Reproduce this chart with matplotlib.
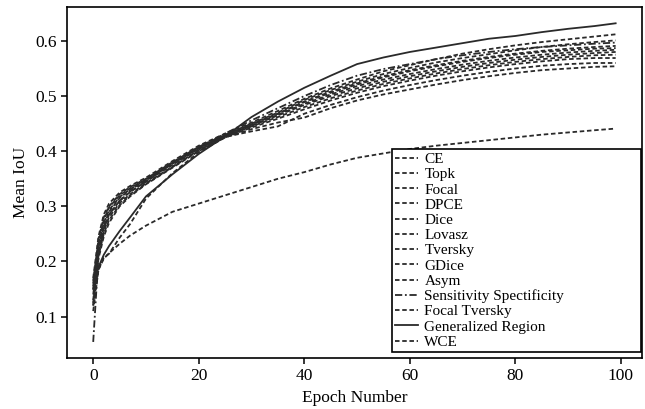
import matplotlib
matplotlib.use('Agg')
import matplotlib.pyplot as plt

plt.rcParams['font.family'] = ['Liberation Serif', 'DejaVu Serif']

epochs = [0, 1, 2, 3, 5, 7, 10, 15, 20, 25, 30, 35, 40, 45, 50, 55, 60, 65, 70, 75, 80, 85, 90, 95, 99]

ce = [.13, .215, .255, .28, .306, .322, .342, .372, .402, .426, .445, .462, .480, .496, .510, .522, .532, .541, .549, .556, .562, .567, .571, .574, .575]
topk = [.17, .245, .285, .305, .325, .337, .352, .382, .41, .432, .452, .473, .495, .514, .530, .545, .556, .567, .577, .585, .592, .598, .603, .608, .612]
focal = [.125, .21, .25, .275, .302, .32, .341, .371, .401, .426, .436, .445, .468, .484, .498, .510, .520, .529, .537, .544, .550, .555, .558, .560, .560]
dpce = [.12, .205, .245, .27, .30, .318, .34, .37, .40, .425, .443, .459, .476, .492, .506, .518, .528, .537, .545, .552, .558, .563, .567, .569, .569]
dice = [.155, .23, .27, .293, .317, .331, .348, .378, .406, .428, .447, .466, .486, .503, .518, .530, .540, .549, .557, .564, .570, .575, .579, .582, .584]
lovasz = [.11, .185, .207, .214, .243, .268, .314, .36, .398, .425, .44, .452, .461, .478, .492, .503, .512, .521, .529, .536, .542, .547, .550, .553, .554]
tversky = [.14, .22, .26, .285, .31, .326, .345, .375, .404, .427, .446, .465, .484, .500, .514, .526, .536, .545, .553, .560, .566, .571, .575, .578, .580]
gdice = [.16, .24, .28, .30, .322, .335, .35, .38, .408, .43, .45, .47, .493, .511, .526, .540, .551, .561, .569, .576, .583, .589, .594, .598, .601]
asym = [.165, .235, .275, .298, .32, .333, .349, .379, .407, .429, .449, .468, .490, .508, .523, .536, .547, .556, .564, .571, .577, .582, .586, .589, .591]
sens_spec = [.054, .21, .26, .285, .31, .327, .345, .378, .407, .432, .456, .478, .500, .520, .537, .549, .558, .567, .574, .580, .585, .589, .592, .595, .597]
focal_tversky = [.15, .225, .265, .29, .315, .33, .347, .377, .405, .428, .448, .468, .489, .506, .521, .534, .545, .554, .562, .569, .575, .580, .583, .586, .587]
gen_region = [.15, .19, .212, .228, .255, .28, .318, .358, .395, .427, .462, .49, .515, .537, .558, .570, .580, .588, .596, .604, .609, .616, .622, .627, .632]
wce = [.12, .185, .205, .215, .232, .247, .265, .29, .305, .32, .335, .35, .362, .376, .388, .396, .404, .41, .415, .42, .425, .43, .434, .438, .441]

labels = ['CE', 'Topk', 'Focal', 'DPCE', 'Dice', 'Lovasz', 'Tversky', 'GDice', 'Asym',
          'Sensitivity Spectificity', 'Focal Tversky', 'Generalized Region', 'WCE']
series = [ce, topk, focal, dpce, dice, lovasz, tversky, gdice, asym,
          sens_spec, focal_tversky, gen_region, wce]

dash = (0, (2.5, 1.5))
styles = {'Sensitivity Spectificity': (0, (4, 1.5, 1, 1.5)), 'Generalized Region': '-'}

fig = plt.figure(figsize=(6.45, 4.09), dpi=100)
ax = fig.add_axes([0.104, 0.125, 0.891, 0.857])

for name, vals in zip(labels, series):
    ax.plot(epochs, vals, color='#2a2a2a', lw=1.3, linestyle=styles.get(name, dash), label=name)

ax.set_xticks([0, 20, 40, 60, 80, 100])
ax.set_yticks([0.1, 0.2, 0.3, 0.4, 0.5, 0.6])
ax.tick_params(labelsize=12.5, width=1.1, length=4)
ax.set_xlabel('Epoch Number', fontsize=12.5, labelpad=4)
ax.set_ylabel('Mean IoU', fontsize=12.5, labelpad=4)
for s in ax.spines.values():
    s.set_linewidth(1.2)

leg = ax.legend(loc='lower left', bbox_to_anchor=(0.566, 0.017, 0.432, 0.57), mode='expand',
                fontsize=11, handlelength=1.5, handletextpad=0.4, labelspacing=0.1,
                borderpad=0.2, borderaxespad=0, fancybox=False, framealpha=1)
leg.get_frame().set_edgecolor('black')
leg.get_frame().set_linewidth(1.2)

fig.savefig('out.png', dpi=100)
